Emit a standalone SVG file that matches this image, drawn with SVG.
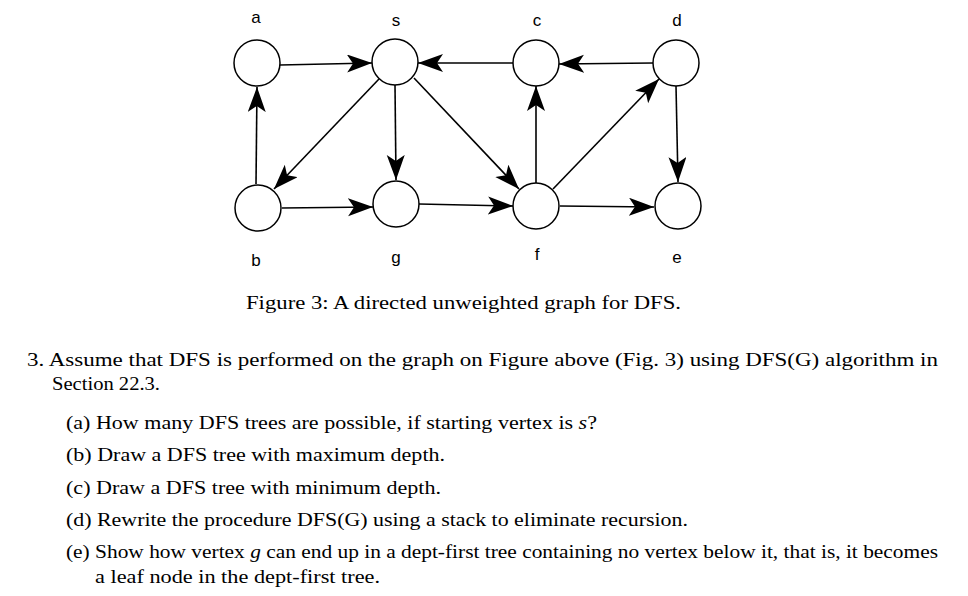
<svg xmlns="http://www.w3.org/2000/svg" width="968" height="596" viewBox="0 0 968 596">
<style>
.n{fill:#fff;stroke:#000;stroke-width:1.5}
.l{font-family:"Liberation Sans",Arial,sans-serif;font-size:17px;text-anchor:middle}
.e{stroke:#000;stroke-width:1.6;fill:none;marker-end:url(#ah)}
.t{font-family:"Liberation Serif","Times New Roman",serif;font-size:19px}
</style>
<defs><marker id="ah" markerWidth="26" markerHeight="20" refX="25" refY="9" orient="auto" markerUnits="userSpaceOnUse"><path d="M0,0 L25,9 L0,18 L6,9 Z" fill="#000"/></marker></defs>
<rect width="968" height="596" fill="#fff"/>
<g id="edges">
<line class="e" x1="280" y1="65" x2="372" y2="63"/>
<line class="e" x1="513" y1="63" x2="418" y2="63"/>
<line class="e" x1="653" y1="63" x2="559" y2="64"/>
<line class="e" x1="256" y1="184" x2="257" y2="87"/>
<line class="e" x1="379" y1="79" x2="274" y2="189"/>
<line class="e" x1="395" y1="85" x2="396" y2="180"/>
<line class="e" x1="414" y1="78" x2="519" y2="189"/>
<line class="e" x1="282" y1="208" x2="373" y2="207"/>
<line class="e" x1="419" y1="204" x2="513" y2="206"/>
<line class="e" x1="536" y1="183" x2="536" y2="86"/>
<line class="e" x1="553" y1="189" x2="659" y2="79"/>
<line class="e" x1="560" y1="206" x2="654" y2="207"/>
<line class="e" x1="676" y1="86" x2="678" y2="182"/>
</g>
<g id="a"><circle class="n" cx="257" cy="63" r="23"/><text class="l" x="256" y="23">a</text></g>
<g id="s"><circle class="n" cx="395" cy="62" r="23"/><text class="l" x="396" y="26">s</text></g>
<g id="c"><circle class="n" cx="536" cy="63" r="23"/><text class="l" x="537" y="26">c</text></g>
<g id="d"><circle class="n" cx="676" cy="63" r="23"/><text class="l" x="677" y="26">d</text></g>
<g id="b"><circle class="n" cx="258" cy="208" r="23"/><text class="l" x="256" y="266">b</text></g>
<g id="g"><circle class="n" cx="396" cy="204" r="23"/><text class="l" x="396" y="263">g</text></g>
<g id="f"><circle class="n" cx="536" cy="206" r="23"/><text class="l" x="537" y="260">f</text></g>
<g id="e"><circle class="n" cx="678" cy="206" r="23"/><text class="l" x="677" y="263">e</text></g>
<g id="text" class="t">
<text x="246" y="309" textLength="435" lengthAdjust="spacingAndGlyphs">Figure 3: A directed unweighted graph for DFS.</text>
<text x="27" y="366" textLength="911" lengthAdjust="spacingAndGlyphs">3. Assume that DFS is performed on the graph on Figure above (Fig. 3) using DFS(G) algorithm in</text>
<text x="52" y="390" textLength="108" lengthAdjust="spacingAndGlyphs">Section 22.3.</text>
<text x="66" y="429" textLength="531" lengthAdjust="spacingAndGlyphs">(a) How many DFS trees are possible, if starting vertex is <tspan font-style="italic">s</tspan>?</text>
<text x="66" y="461" textLength="379" lengthAdjust="spacingAndGlyphs">(b) Draw a DFS tree with maximum depth.</text>
<text x="66" y="494" textLength="375" lengthAdjust="spacingAndGlyphs">(c) Draw a DFS tree with minimum depth.</text>
<text x="66" y="526" textLength="622" lengthAdjust="spacingAndGlyphs">(d) Rewrite the procedure DFS(G) using a stack to eliminate recursion.</text>
<text x="66" y="558" textLength="872" lengthAdjust="spacingAndGlyphs">(e) Show how vertex <tspan font-style="italic">g</tspan> can end up in a dept-first tree containing no vertex below it, that is, it becomes</text>
<text x="95" y="583" textLength="285" lengthAdjust="spacingAndGlyphs">a leaf node in the dept-first tree.</text>
</g>
</svg>
